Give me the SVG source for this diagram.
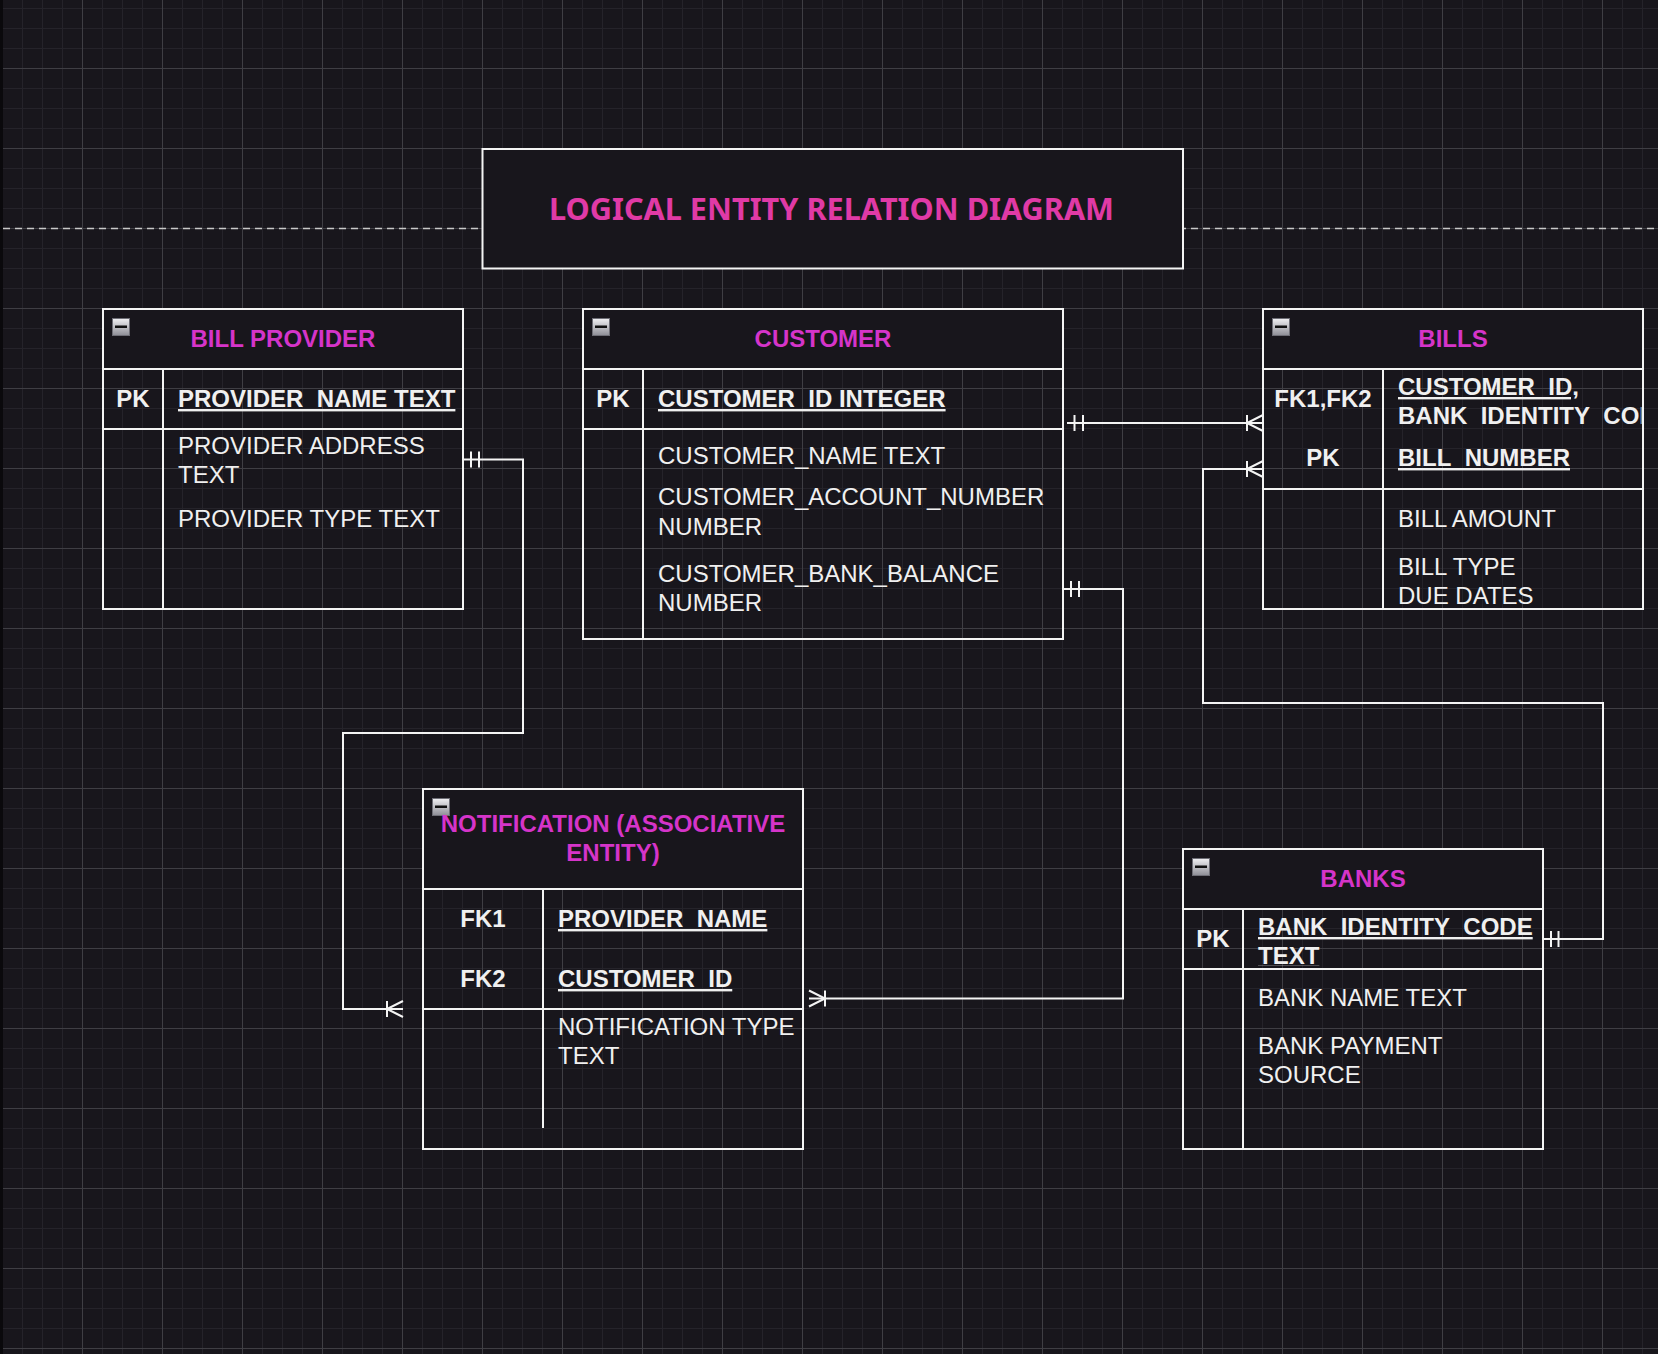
<svg xmlns="http://www.w3.org/2000/svg" width="1658" height="1354" viewBox="0 0 1658 1354">
<style>
.ln{stroke:#f4f4f4;stroke-width:2;fill:none}
.hdr{fill:#18161c;stroke:none}
.t{font-family:"Liberation Sans",Arial,sans-serif;font-size:24px;fill:#f0f0f0}
.b{font-weight:bold}
.u{text-decoration:underline}
.c{text-anchor:middle}
.h{font-family:"Liberation Sans",Arial,sans-serif;font-size:24px;font-weight:bold;fill:#d534c9;text-anchor:middle}
.title{font-family:"Noto Sans",sans-serif;font-size:31px;font-weight:bold;fill:#e03aa6}
.cx{stroke:#f4f4f4;stroke-width:2;fill:none}
</style>
<defs>
<pattern id="grid" x="2" y="8" width="80" height="80" patternUnits="userSpaceOnUse">
<path d="M20.5 0V80M40.5 0V80M60.5 0V80M0 20.5H80M0 40.5H80M0 0.5H80" stroke="#25232a" stroke-width="1" fill="none"/>
<path d="M0.5 0V80M0 60.5H80" stroke="#3f3e44" stroke-width="1" fill="none"/>
</pattern>
<linearGradient id="mg" x1="0" y1="0" x2="0" y2="1">
<stop offset="0" stop-color="#f0f0f2"/>
<stop offset="1" stop-color="#8e8e96"/>
</linearGradient>
<symbol id="minus" viewBox="0 0 18 18">
<rect x="0.5" y="0.5" width="17" height="17" fill="url(#mg)" stroke="#6e6e76"/>
<rect x="3" y="7.5" width="12" height="2.5" fill="#111"/>
</symbol>
<clipPath id="clipBills"><rect x="1384" y="371" width="257.5" height="54"/></clipPath>
<clipPath id="clipBanks"><rect x="1244" y="911" width="298" height="54.5"/></clipPath>
</defs>

<rect x="0" y="0" width="1658" height="1354" fill="#18161c"/>
<rect x="0" y="0" width="1658" height="1354" fill="url(#grid)"/>
<rect x="0" y="0" width="3" height="1354" fill="#0a090c"/>

<line x1="3" y1="228.5" x2="1658" y2="228.5" stroke="#c8c8c8" stroke-width="1.5" stroke-dasharray="7 5"/>

<g id="title">
<rect x="482.5" y="149" width="700.5" height="119.5" fill="#18161c" stroke="#f4f4f4" stroke-width="2"/>
<text class="title" x="549" y="220" textLength="565" lengthAdjust="spacingAndGlyphs">LOGICAL ENTITY RELATION DIAGRAM</text>
</g>

<g id="bill-provider">
<rect class="hdr" x="103" y="309" width="360" height="60"/>
<rect class="ln" x="103" y="309" width="360" height="300"/>
<path class="ln" d="M103 369H463M103 429H463M163 369V609"/>
<use href="#minus" x="112" y="318" width="18" height="18"/>
<text class="h" x="283" y="347">BILL PROVIDER</text>
<text class="t b c" x="133" y="407">PK</text>
<text class="t b u" x="178" y="407">PROVIDER_NAME TEXT</text>
<text class="t" x="178" y="454">PROVIDER ADDRESS</text>
<text class="t" x="178" y="483">TEXT</text>
<text class="t" x="178" y="527">PROVIDER TYPE TEXT</text>
</g>

<g id="customer">
<rect class="hdr" x="583" y="309" width="480" height="60"/>
<rect class="ln" x="583" y="309" width="480" height="330"/>
<path class="ln" d="M583 369H1063M583 429H1063M643 369V639"/>
<use href="#minus" x="592" y="318" width="18" height="18"/>
<text class="h" x="823" y="347">CUSTOMER</text>
<text class="t b c" x="613" y="407">PK</text>
<text class="t b u" x="658" y="407">CUSTOMER_ID INTEGER</text>
<text class="t" x="658" y="463.5">CUSTOMER_NAME TEXT</text>
<text class="t" x="658" y="504.5">CUSTOMER_ACCOUNT_NUMBER</text>
<text class="t" x="658" y="534.5">NUMBER</text>
<text class="t" x="658" y="582">CUSTOMER_BANK_BALANCE</text>
<text class="t" x="658" y="611">NUMBER</text>
</g>

<g id="bills">
<rect class="hdr" x="1263" y="309" width="380" height="60"/>
<rect class="ln" x="1263" y="309" width="380" height="300"/>
<path class="ln" d="M1263 369H1643M1263 489H1643M1383 369V609"/>
<use href="#minus" x="1272" y="318" width="18" height="18"/>
<text class="h" x="1453" y="347">BILLS</text>
<text class="t b c" x="1323" y="407">FK1,FK2</text>
<text class="t b c" x="1323" y="466">PK</text>
<text class="t b u" x="1398" y="395">CUSTOMER_ID,</text>
<text class="t b u" x="1398" y="423.5" clip-path="url(#clipBills)">BANK_IDENTITY_CODE</text>
<text class="t b u" x="1398" y="466">BILL_NUMBER</text>
<text class="t" x="1398" y="527">BILL AMOUNT</text>
<text class="t" x="1398" y="575">BILL TYPE</text>
<text class="t" x="1398" y="603.5">DUE DATES</text>
</g>

<g id="notification">
<rect class="hdr" x="423" y="789" width="380" height="100"/>
<rect class="ln" x="423" y="789" width="380" height="360"/>
<path class="ln" d="M423 889H803M423 1009H803M543 889V1128"/>
<use href="#minus" x="432" y="798" width="18" height="18"/>
<text class="h" x="613" y="832">NOTIFICATION (ASSOCIATIVE</text>
<text class="h" x="613" y="861">ENTITY)</text>
<text class="t b c" x="483" y="927">FK1</text>
<text class="t b c" x="483" y="987">FK2</text>
<text class="t b u" x="558" y="927">PROVIDER_NAME</text>
<text class="t b u" x="558" y="987">CUSTOMER_ID</text>
<text class="t" x="558" y="1035">NOTIFICATION TYPE</text>
<text class="t" x="558" y="1063.5">TEXT</text>
</g>

<g id="banks">
<rect class="hdr" x="1183" y="849" width="360" height="60"/>
<rect class="ln" x="1183" y="849" width="360" height="300"/>
<path class="ln" d="M1183 909H1543M1183 969H1543M1243 909V1149"/>
<use href="#minus" x="1192" y="858" width="18" height="18"/>
<text class="h" x="1363" y="887">BANKS</text>
<text class="t b c" x="1213" y="947">PK</text>
<text class="t b u" x="1258" y="935">BANK_IDENTITY_CODE</text>
<text class="t b u" x="1258" y="963.5" clip-path="url(#clipBanks)">TEXT</text>
<text class="t" x="1258" y="1006">BANK NAME TEXT</text>
<text class="t" x="1258" y="1053.5">BANK PAYMENT</text>
<text class="t" x="1258" y="1083">SOURCE</text>
</g>

<g id="connectors">
<!-- Bill provider to notification -->
<path class="cx" d="M463 459.5H523V733H343V1009H403"/>
<path class="cx" d="M471 451.5V467.5M479 451.5V467.5"/>
<path class="cx" d="M387 1001V1017M403 1001L387 1009L403 1017"/>
<!-- Customer to bills -->
<path class="cx" d="M1067 423H1263"/>
<path class="cx" d="M1074.5 415V431M1083 415V431"/>
<path class="cx" d="M1247 415V431M1263 415L1247 423L1263 431"/>
<!-- Customer to notification -->
<path class="cx" d="M1063 589H1123V998.5H809"/>
<path class="cx" d="M1071 581V597M1079 581V597"/>
<path class="cx" d="M825 990.5V1006.5M809 990.5L825 998.5L809 1006.5"/>
<!-- Banks to bills -->
<path class="cx" d="M1543 939H1603V703H1203V469H1263"/>
<path class="cx" d="M1551 931V947M1558.5 931V947"/>
<path class="cx" d="M1247 461V477M1263 461L1247 469L1263 477"/>
</g>
</svg>
